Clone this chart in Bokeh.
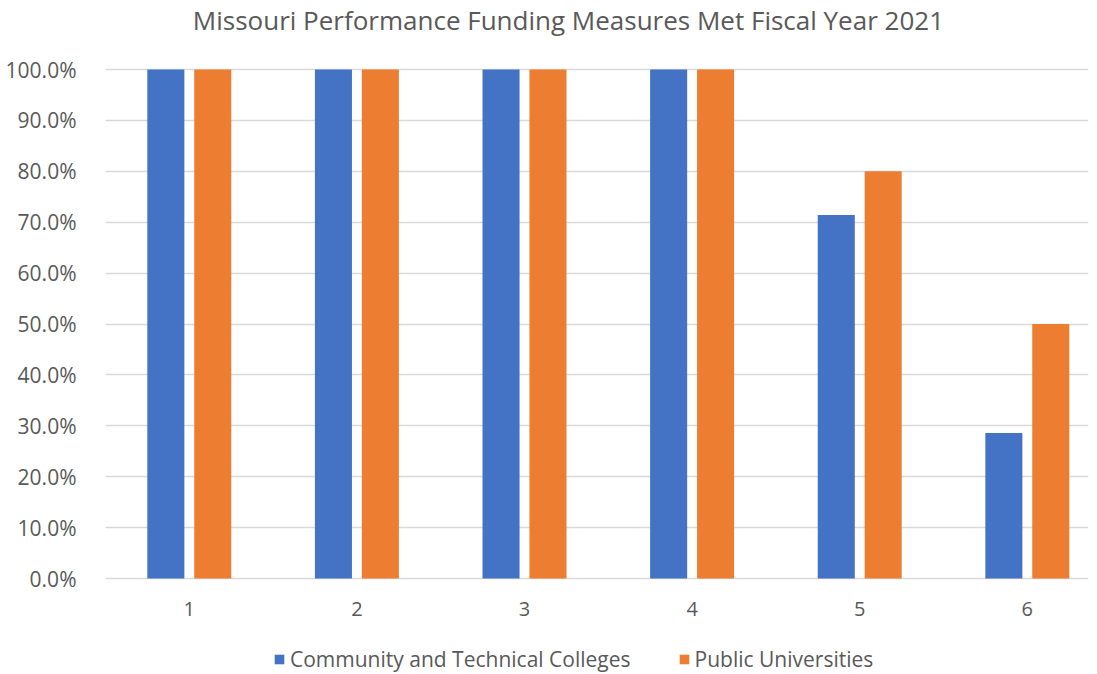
from bokeh.plotting import figure
from bokeh.models import (ColumnDataSource, FixedTicker, NumeralTickFormatter, Legend,
                          LegendItem, Range1d, Label)
from bokeh.core.properties import value
from bokeh.embed import file_html
from bokeh.resources import INLINE

categories = [1, 2, 3, 4, 5, 6]
category_labels = ["1", "2", "3", "4", "5", "6"]
series_names = ["Community and Technical Colleges", "Public Universities"]
community = [1.0, 1.0, 1.0, 1.0, 0.714, 0.286]
universities = [1.0, 1.0, 1.0, 1.0, 0.80, 0.50]
colors = ["#4472C4", "#ED7D31"]
y_ticks = [i / 10 for i in range(11)]
title_text = "Missouri Performance Funding Measures Met Fiscal Year 2021"

FONT = "Open Sans"
GREY = "#595959"

p = figure(width=1089, height=674, output_backend="svg", toolbar_location=None,
           x_range=Range1d(0.5, 6.365), y_range=Range1d(-0.1886, 1.1356),
           min_border_left=105, min_border_right=1, min_border_top=0, min_border_bottom=0)
p.outline_line_color = None
p.xaxis.visible = False

src = ColumnDataSource(dict(x=categories, a=community, b=universities,
                            xa=[c - 0.14 for c in categories], xb=[c + 0.14 for c in categories]))
r1 = p.vbar(x="xa", top="a", width=0.221, source=src, fill_color=colors[0], line_color=None)
r2 = p.vbar(x="xb", top="b", width=0.221, source=src, fill_color=colors[1], line_color=None)

# category labels under the baseline
lab_src = ColumnDataSource(dict(x=categories, y=[-0.059] * len(categories), t=category_labels))
p.text(x="x", y="y", text="t", source=lab_src, text_align="center", text_baseline="middle",
       text_font=value(FONT), text_font_size="20px", text_color=GREY)

p.yaxis.ticker = FixedTicker(ticks=y_ticks)
p.yaxis.formatter = NumeralTickFormatter(format="0.0%")
p.yaxis.axis_line_color = None
p.yaxis.major_tick_line_color = None
p.yaxis.minor_tick_line_color = None
p.yaxis.major_label_text_font = FONT
p.yaxis.major_label_text_font_size = "21px"
p.yaxis.major_label_text_color = GREY
p.yaxis.major_label_standoff = 23
p.xgrid.grid_line_color = None
p.ygrid.grid_line_color = "#D9D9D9"
p.ygrid.grid_line_width = 1.3

p.add_layout(Label(x=3.262, y=1.098, text=title_text, text_align="center",
                   text_baseline="middle", text_font=FONT, text_font_size="26px",
                   text_color=GREY))

legend = Legend(items=[LegendItem(label=series_names[0], renderers=[r1]),
                       LegendItem(label=series_names[1], renderers=[r2])],
                orientation="horizontal", location=(168, 1),
                glyph_width=12, glyph_height=12, spacing=47, label_standoff=5,
                label_text_font=FONT, label_text_font_size="21px", label_text_color=GREY,
                border_line_color=None, background_fill_alpha=0, margin=0, padding=0)
p.add_layout(legend, "center")

open("out.html", "w").write(file_html(p, INLINE))
